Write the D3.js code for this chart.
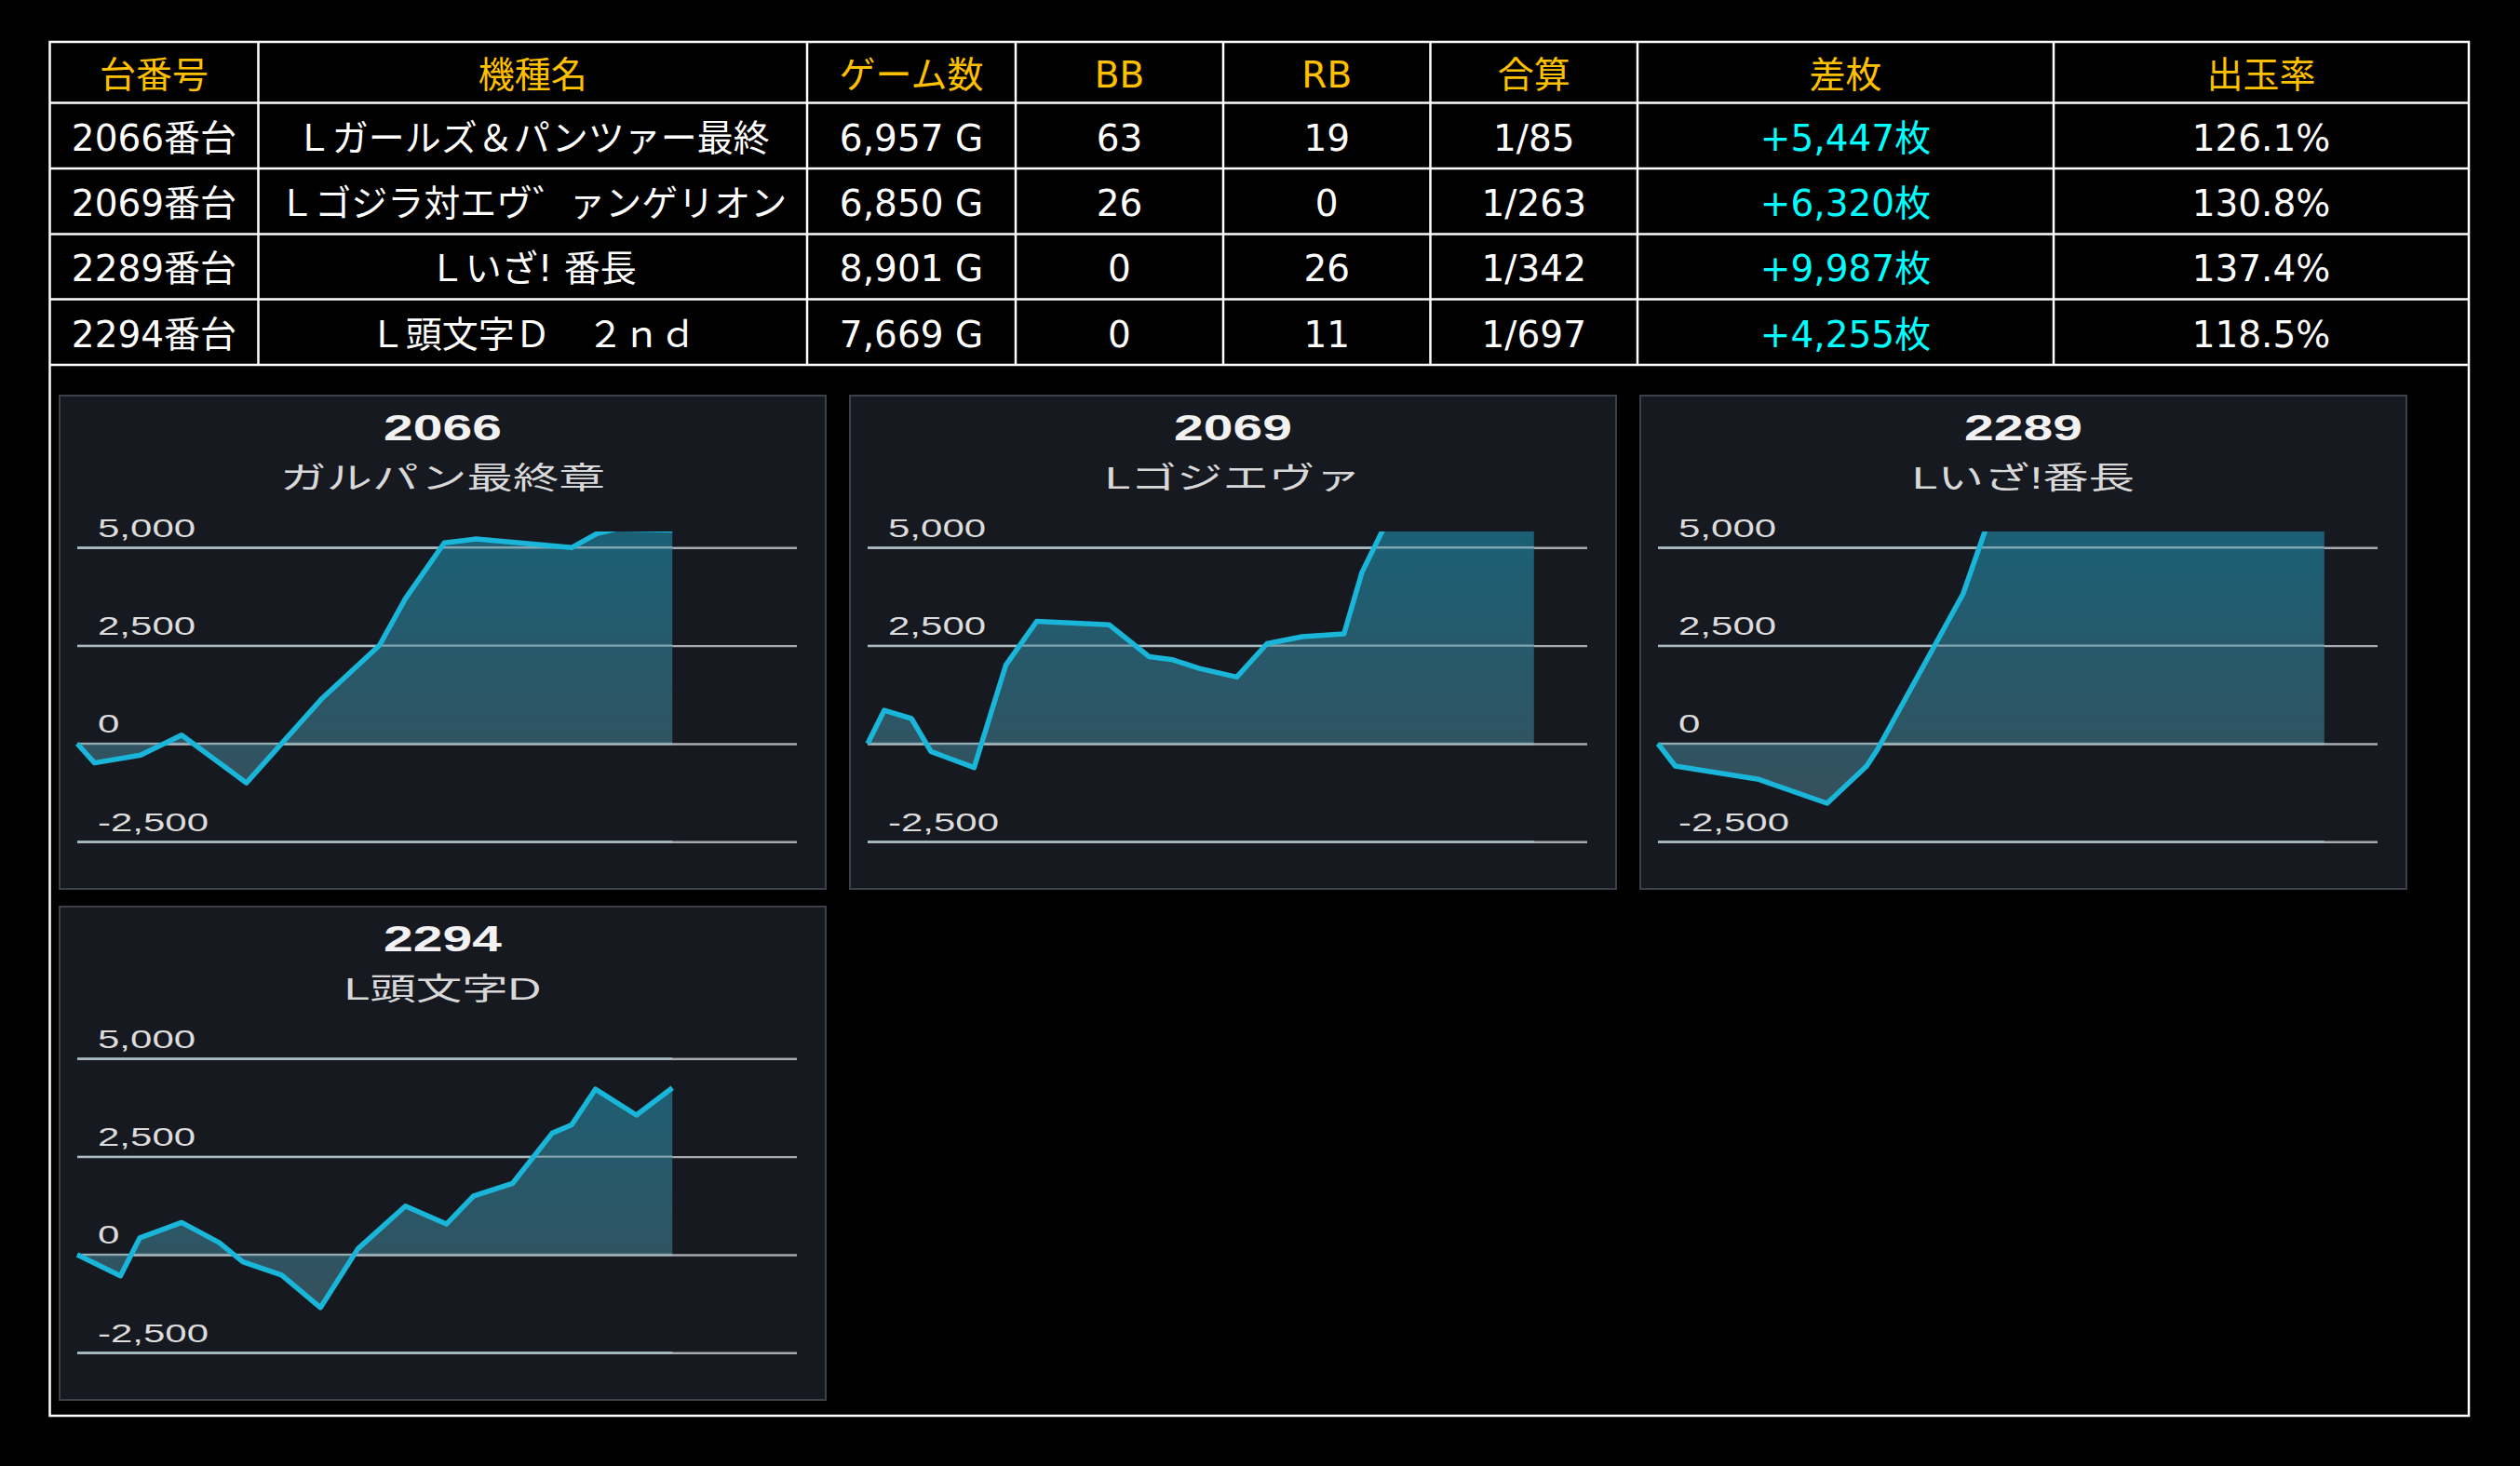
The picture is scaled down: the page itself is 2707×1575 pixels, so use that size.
<!DOCTYPE html>
<html lang="ja">
<head>
  <meta charset="UTF-8">
  <script src="https://d3js.org/d3.v7.min.js"></script>
  <title>台データ</title>
  <style>
    body { margin: 0; background: #000; }
  </style>
</head>
<body>
  <script>
    // table data
    const headers = ["台番号", "機種名", "ゲーム数", "BB", "RB", "合算", "差枚", "出玉率"]
    const machineNos = ["2066番台", "2069番台", "2289番台", "2294番台"]
    const machineNames = ["Ｌガールズ＆パンツァー最終", "Ｌゴジラ対エヴ゛ァンゲリオン", "Ｌいざ! 番長", "Ｌ頭文字Ｄ　２ｎｄ"]
    const games = [6957, 6850, 8901, 7669]
    const bbCounts = [63, 26, 0, 0]
    const rbCounts = [19, 0, 26, 11]
    const combined = ["1/85", "1/263", "1/342", "1/697"]
    const diffs = [5447, 6320, 9987, 4255]
    const payouts = ["126.1%", "130.8%", "137.4%", "118.5%"]

    // graph data (x: position through the day, 0-100 of the plot width)
    const chartIds = ["2066", "2069", "2289", "2294"]
    const chartNames = ["ガルパン最終章", "Lゴジエヴァ", "Lいざ!番長", "L頭文字D"]
    const yTicks = [5000, 2500, 0, -2500]

    const s2066x = [0, 2.4, 8.8, 14.5, 23.5, 33.9, 42.0, 45.6, 51.0, 55.4, 68.7, 72.2, 75.0, 82.7]
    const s2066y = [0, -490, -290, 220, -1000, 1130, 2510, 3700, 5120, 5220, 5000, 5356, 5480, 5447]

    const s2069x = [0, 2.3, 6.1, 8.8, 14.8, 19.2, 23.5, 33.6, 39.1, 42.4, 46.1, 51.3, 55.5, 60.4, 66.2, 68.7, 72.0, 80.0, 92.6]
    const s2069y = [0, 850, 640, -200, -610, 2000, 3120, 3030, 2220, 2140, 1920, 1700, 2550, 2730, 2800, 4370, 5600, 6200, 6320]

    const s2289x = [0, 2.4, 14.0, 23.5, 29.0, 30.5, 42.4, 45.5, 55.0, 70.0, 92.6]
    const s2289y = [0, -570, -910, -1520, -570, -150, 3820, 5450, 7200, 8800, 9987]

    const s2294x = [0, 6.0, 8.7, 14.5, 19.7, 23.0, 28.4, 33.8, 39.0, 45.6, 51.3, 55.1, 60.5, 66.0, 68.7, 72.0, 77.7, 82.7]
    const s2294y = [0, -540, 430, 820, 310, -180, -520, -1350, 150, 1240, 780, 1500, 1820, 3100, 3310, 4220, 3560, 4255]

    const seriesX = [s2066x, s2069x, s2289x, s2294x]
    const seriesY = [s2066y, s2069y, s2289y, s2294y]

    const W = 2707, H = 1575
    const svg = d3.select("body").append("svg")
        .attr("width", W)
        .attr("height", H)
        .style("display", "block")

    svg.append("rect").attr("width", W).attr("height", H).attr("fill", "#000")

    // ---------- table ----------
    const colEdges = [53.5, 277.5, 867, 1091, 1314, 1536.5, 1759, 2206, 2652]
    const rowEdges = [45, 110.5, 181, 251.5, 321.5, 392]
    const frameBottom = 1521
    const fmt = d3.format(",")

    const rows = machineNos.map((no, i) => [
      {t: no, c: "#fff"},
      {t: machineNames[i], c: "#fff"},
      {t: fmt(games[i]) + " G", c: "#fff"},
      {t: String(bbCounts[i]), c: "#fff"},
      {t: String(rbCounts[i]), c: "#fff"},
      {t: combined[i], c: "#fff"},
      {t: "+" + fmt(diffs[i]) + "枚", c: "#00ffff"},
      {t: payouts[i], c: "#fff"}
    ])
    const cells = [headers.map(h => ({t: h, c: "#ffc000"}))].concat(rows)

    const table = svg.append("g")
        .style("font-family", "'DejaVu Sans', 'Noto Sans CJK JP', sans-serif")
        .style("font-size", "39px")

    table.append("rect")
        .attr("x", colEdges[0]).attr("y", rowEdges[0])
        .attr("width", colEdges[8] - colEdges[0])
        .attr("height", frameBottom - rowEdges[0])
        .attr("fill", "none").attr("stroke", "#fff").attr("stroke-width", 2.5)

    table.selectAll("line.h").data(rowEdges.slice(1)).join("line")
        .attr("x1", colEdges[0]).attr("x2", colEdges[8])
        .attr("y1", d => d).attr("y2", d => d)
        .attr("stroke", "#fff").attr("stroke-width", 2.5)

    table.selectAll("line.v").data(colEdges.slice(1, -1)).join("line")
        .attr("x1", d => d).attr("x2", d => d)
        .attr("y1", rowEdges[0]).attr("y2", rowEdges[5])
        .attr("stroke", "#fff").attr("stroke-width", 2.5)

    cells.forEach((row, r) => {
      const cy = (rowEdges[r] + rowEdges[r + 1]) / 2
      table.selectAll(null).data(row).join("text")
          .attr("x", (d, c) => (colEdges[c] + colEdges[c + 1]) / 2)
          .attr("y", cy)
          .attr("dy", "0.41em")
          .attr("text-anchor", "middle")
          .attr("fill", d => d.c)
          .text(d => d.t)
    })

    // ---------- graphs ----------
    const pw = 823, ph = 530
    const gx0 = 19, gx1 = 792
    const x = d3.scaleLinear().domain([0, 100]).range([gx0, gx1])
    const y = d3.scaleLinear().domain([-2500, 5000]).range([479.3, 163.3])
    const clipTop = y(5410)

    const defs = svg.append("defs")
    const grad = defs.append("linearGradient")
        .attr("id", "fillGrad")
        .attr("gradientUnits", "userSpaceOnUse")
        .attr("x1", 0).attr("x2", 0)
        .attr("y1", clipTop).attr("y2", y(-2500))
    grad.append("stop").attr("offset", 0).attr("stop-color", "#1b6076")
    grad.append("stop").attr("offset", 0.68).attr("stop-color", "#2f5462")
    grad.append("stop").attr("offset", 1).attr("stop-color", "#3a4d59")

    defs.append("clipPath").attr("id", "plotClip")
      .append("rect")
        .attr("x", 0).attr("y", clipTop)
        .attr("width", pw).attr("height", ph - clipTop)

    const area = d3.area()
        .x(d => x(d[0]))
        .y0(y(0))
        .y1(d => y(d[1]))

    const line = d3.line()
        .x(d => x(d[0]))
        .y(d => y(d[1]))

    chartIds.forEach((id, i) => {
      const px = 64 + (i % 3) * 849
      const py = 425 + Math.floor(i / 3) * 549
      const g = svg.append("g").attr("transform", `translate(${px},${py})`)
      const pts = seriesX[i].map((v, k) => [v, seriesY[i][k]])

      g.append("rect")
          .attr("width", pw).attr("height", ph)
          .attr("fill", "#161920")
          .attr("stroke", "#3d4048").attr("stroke-width", 2)

      g.append("g")
          .attr("transform", `translate(${pw / 2},${48})`)
        .append("text")
          .attr("text-anchor", "middle")
          .attr("transform", "scale(1.5,1)")
          .style("font-family", "'Liberation Sans', Arial, sans-serif")
          .style("font-weight", "bold")
          .style("font-size", "38px")
          .attr("fill", "#f2f2f2")
          .text(id)

      g.append("g")
          .attr("transform", `translate(${pw / 2},${100})`)
        .append("text")
          .attr("text-anchor", "middle")
          .attr("transform", "scale(1.5,1)")
          .style("font-family", "'Liberation Sans', 'Noto Sans CJK JP', sans-serif")
          .style("font-size", "33px")
          .attr("fill", "#d8d8d8")
          .text(chartNames[i])

      // grid + labels
      const yAxis = g.append("g")
          .attr("transform", `translate(${gx0},0)`)
          .call(d3.axisRight(y)
            .tickValues(yTicks)
            .tickSize(gx1 - gx0)
            .tickFormat(d => fmt(d).replace("−", "-")))
      yAxis.select(".domain").remove()
      yAxis.selectAll(".tick line")
          .attr("stroke", "#a8aaaf")
          .attr("stroke-width", 2.4)
      yAxis.selectAll(".tick text")
          .attr("x", 0).attr("dy", 0)
          .attr("text-anchor", "start")
          .attr("transform", "translate(22,-12) scale(1.5,1)")
          .attr("fill", "#dcdcdc")
          .style("font-family", "'Liberation Sans', Arial, sans-serif")
          .style("font-size", "28px")

      const plot = g.append("g").attr("clip-path", "url(#plotClip)")
      plot.append("path")
          .attr("d", area(pts))
          .attr("fill", "url(#fillGrad)")
      // gridlines seen through the fill
      plot.selectAll("line.over").data(yTicks).join("line")
          .attr("x1", gx0).attr("x2", x(seriesX[i][seriesX[i].length - 1]))
          .attr("y1", d => y(d)).attr("y2", d => y(d))
          .attr("stroke", "#a9c4cc").attr("stroke-opacity", 0.7)
          .attr("stroke-width", 2.4)
      plot.append("path")
          .attr("d", line(pts))
          .attr("fill", "none")
          .attr("stroke", "#19b6d9")
          .attr("stroke-width", 5.5)
          .attr("stroke-linejoin", "round")
    })
  </script>
</body>
</html>
